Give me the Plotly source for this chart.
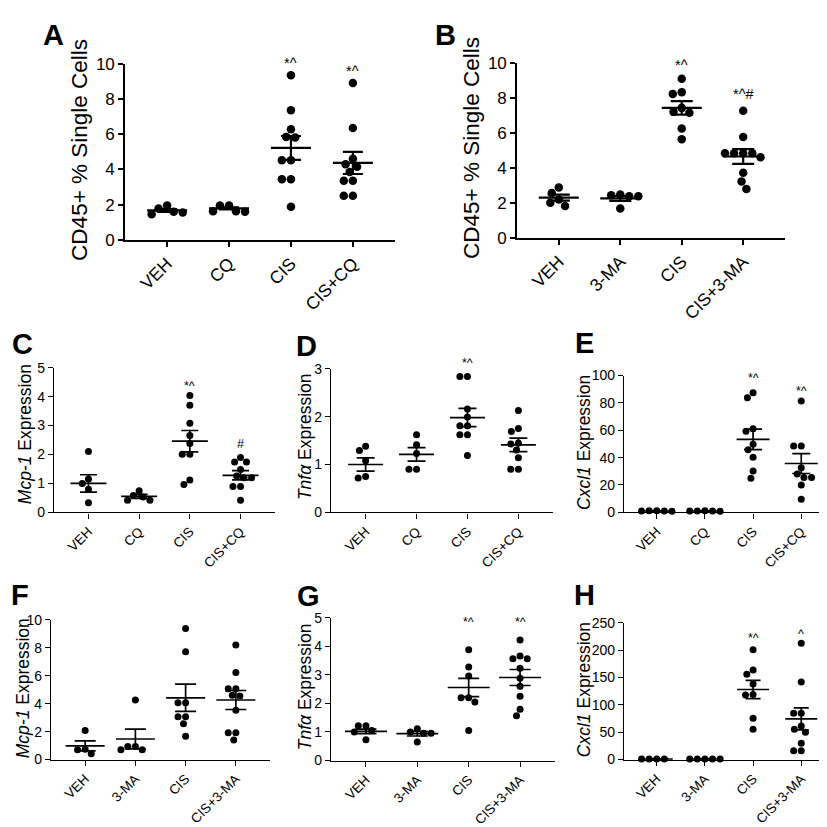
import math
import plotly.graph_objects as go

W = H = 827
FONT = "Liberation Sans, Arial, Helvetica, sans-serif"

# ---------------- data ----------------
cats_cq = ["VEH", "CQ", "CIS", "CIS+CQ"]
cats_ma = ["VEH", "3-MA", "CIS", "CIS+3-MA"]

# A: CD45+ % single cells, CQ experiment
a_veh = [1.95, 1.55, 1.45, 1.60, 1.78]
a_cq = [1.95, 1.62, 1.60, 1.62, 1.95]
a_cis = [9.35, 7.36, 6.28, 5.85, 5.82, 4.52, 4.52, 3.44, 3.44, 1.88]
a_ciscq = [8.92, 6.36, 4.60, 4.30, 4.15, 3.85, 3.35, 3.35, 2.50, 2.50]
a_mean = [1.67, 1.78, 5.22, 4.37]
a_sem = [0.08, 0.06, 0.68, 0.63]
a_sig = ["", "", "*^", "*^"]
a_sig_y = [0, 0, 10.05, 9.6]

# B: CD45+ % single cells, 3-MA experiment
b_veh = [2.88, 2.56, 2.19, 2.00, 1.82]
b_ma = [2.47, 2.38, 2.38, 2.43, 1.67]
b_cis = [9.10, 8.33, 8.23, 7.43, 7.21, 7.15, 6.25, 5.63]
b_cisma = [7.27, 5.76, 4.83, 4.83, 4.83, 4.83, 4.61, 3.72, 3.22, 2.79]
b_mean = [2.30, 2.25, 7.43, 4.65]
b_sem = [0.17, 0.14, 0.39, 0.42]
b_sig = ["", "", "*^", "*^#"]
b_sig_y = [0, 0, 9.9, 8.23]

# C: Mcp-1, CQ
c_veh = [2.10, 1.15, 1.00, 0.80, 0.33]
c_cq = [0.75, 0.53, 0.42, 0.42, 0.58]
c_cis = [4.04, 3.70, 3.08, 2.66, 2.38, 2.01, 2.01, 1.12, 0.96]
c_ciscq = [1.90, 1.74, 1.74, 1.48, 1.26, 1.20, 1.20, 0.89, 0.89, 0.42]
c_mean = [1.00, 0.55, 2.46, 1.28]
c_sem = [0.30, 0.07, 0.37, 0.16]
c_sig = ["", "", "*^", "#"]
c_sig_y = [0, 0, 4.37, 2.35]

# D: Tnfa, CQ
d_veh = [1.38, 1.29, 1.08, 0.75, 0.72]
d_cq = [1.62, 1.41, 1.23, 0.90, 0.90]
d_cis = [2.84, 2.84, 2.16, 1.99, 1.81, 1.81, 1.62, 1.62, 1.19]
d_ciscq = [2.13, 1.75, 1.69, 1.45, 1.43, 1.30, 1.14, 0.90, 0.90]
d_mean = [1.00, 1.21, 1.98, 1.41]
d_sem = [0.14, 0.14, 0.19, 0.14]
d_sig = ["", "", "*^", ""]
d_sig_y = [0, 0, 3.12, 0]

# E: Cxcl1, CQ
e_veh = [0.8, 1.2, 1.0, 0.9, 1.1]
e_cq = [0.9, 1.0, 1.1, 0.8, 1.0]
e_cis = [87.4, 83.8, 61.2, 59.3, 49.8, 45.7, 40.2, 30.2, 25.0]
e_ciscq = [81.4, 48.6, 48.6, 32.6, 28.0, 25.5, 25.5, 20.0, 9.5]
e_mean = [1.0, 1.0, 53.3, 35.7]
e_sem = [0.1, 0.1, 7.5, 7.3]
e_sig = ["", "", "*^", "*^"]
e_sig_y = [0, 0, 98, 89]

# F: Mcp-1, 3-MA
f_veh = [2.07, 0.74, 0.70, 0.42]
f_ma = [4.26, 0.93, 0.70, 0.70, 0.93]
f_cis = [9.37, 7.72, 4.07, 4.07, 3.07, 3.07, 2.56, 1.67]
f_cisma = [8.19, 6.23, 5.07, 5.07, 4.60, 4.55, 3.53, 1.91, 1.91, 1.40]
f_mean = [0.98, 1.47, 4.42, 4.26]
f_sem = [0.36, 0.70, 0.98, 0.68]
f_sig = ["", "", "", ""]
f_sig_y = [0, 0, 0, 0]

# G: Tnfa, 3-MA
g_veh = [1.22, 1.22, 1.05, 1.00, 0.73]
g_ma = [1.11, 1.00, 0.96, 0.96, 0.65]
g_cis = [3.88, 3.28, 2.96, 2.20, 2.20, 2.05, 1.05]
g_cisma = [4.22, 3.66, 3.57, 3.57, 3.23, 2.88, 2.60, 2.25, 1.80, 1.57]
g_mean = [1.02, 0.94, 2.56, 2.91]
g_sem = [0.08, 0.08, 0.32, 0.28]
g_sig = ["", "", "*^", "*^"]
g_sig_y = [0, 0, 4.85, 4.85]

# H: Cxcl1, 3-MA
h_veh = [0.8, 1.0, 1.2, 1.0]
h_ma = [1.0, 1.1, 0.9, 1.0, 1.2]
h_cis = [200.6, 163.7, 156.0, 138.0, 119.0, 117.9, 75.6, 55.4]
h_cisma = [212.5, 141.7, 84.5, 84.5, 61.3, 55.4, 50.0, 29.8, 16.0, 16.0]
h_mean = [1.0, 1.0, 128.0, 74.4]
h_sem = [0.1, 0.1, 16.7, 20.0]
h_sig = ["", "", "*^", "^"]
h_sig_y = [0, 0, 223, 229]

# ---------------- layout specs (pixels) ----------------
BIG = dict(tfont=17, cfont=17.5, ttl=22.5, sfont=14.5, ms=8.5, lw=2.2, axw=1.6)
SMALL = dict(tfont=14, cfont=13.5, ttl=17.5, sfont=12.5, ms=7, lw=1.7, axw=1.3)

panels = [
    dict(letter="A", cats=cats_cq, groups=[a_veh, a_cq, a_cis, a_ciscq], mean=a_mean, sem=a_sem,
         sig=a_sig, sig_y=a_sig_y, title="CD45+ % Single Cells",
         px=(117, 387), py=(48, 228), yr=(0, 10), dtick=2, title_xy=(72, 136), letter_xy=(45, 18),
         meanlen=40, cap=10, **BIG),
    dict(letter="B", cats=cats_ma, groups=[b_veh, b_ma, b_cis, b_cisma], mean=b_mean, sem=b_sem,
         sig=b_sig, sig_y=b_sig_y, title="CD45+ % Single Cells",
         px=(509, 777), py=(47, 226), yr=(0, 10), dtick=2, title_xy=(464, 134), letter_xy=(437, 18),
         meanlen=40, cap=11, **BIG),
    dict(letter="C", cats=cats_cq, groups=[c_veh, c_cq, c_cis, c_ciscq], mean=c_mean, sem=c_sem,
         sig=c_sig, sig_y=c_sig_y, title="<i>Mcp-1</i> Expression",
         px=(46, 267), py=(359, 507), yr=(0, 5), dtick=1, title_xy=(17, 427), letter_xy=(14, 335),
         meanlen=36, cap=8.5, **SMALL),
    dict(letter="D", cats=cats_cq, groups=[d_veh, d_cq, d_cis, d_ciscq], mean=d_mean, sem=d_sem,
         sig=d_sig, sig_y=d_sig_y, title="<i>Tnfα</i> Expression",
         px=(323, 545), py=(360, 507), yr=(0, 3), dtick=1, title_xy=(297, 430), letter_xy=(298, 337),
         meanlen=35, cap=9, **SMALL),
    dict(letter="E", cats=cats_cq, groups=[e_veh, e_cq, e_cis, e_ciscq], mean=e_mean, sem=e_sem,
         sig=e_sig, sig_y=e_sig_y, title="<i>Cxcl1</i> Expression",
         px=(616, 826), py=(367, 507), yr=(0, 100), dtick=20, title_xy=(576, 436), letter_xy=(576, 334),
         meanlen=33, cap=9, **SMALL),
    dict(letter="F", cats=cats_ma, groups=[f_veh, f_ma, f_cis, f_cisma], mean=f_mean, sem=f_sem,
         sig=f_sig, sig_y=f_sig_y, title="<i>Mcp-1</i> Expression",
         px=(43, 262), py=(617, 760), yr=(0, 10), dtick=2, title_xy=(15, 687), letter_xy=(12, 592),
         meanlen=39, cap=10.5, **SMALL),
    dict(letter="G", cats=cats_ma, groups=[g_veh, g_ma, g_cis, g_cisma], mean=g_mean, sem=g_sem,
         sig=g_sig, sig_y=g_sig_y, title="<i>Tnfα</i> Expression",
         px=(323, 547), py=(615, 761), yr=(0, 5), dtick=1, title_xy=(297, 686), letter_xy=(300, 593),
         meanlen=42, cap=10.5, **SMALL),
    dict(letter="H", cats=cats_ma, groups=[h_veh, h_ma, h_cis, h_cisma], mean=h_mean, sem=h_sem,
         sig=h_sig, sig_y=h_sig_y, title="<i>Cxcl1</i> Expression",
         px=(616, 826), py=(620, 760), yr=(0, 250), dtick=50, title_xy=(576, 689), letter_xy=(576, 592),
         meanlen=32, cap=7.5, **SMALL),
]

XR = (-0.68, 3.68)


def swarm(vals, d, ppx, ppy):
    """Deterministic beeswarm: horizontal offsets (x units) so dots don't overlap."""
    placed = []
    offs = [0.0] * len(vals)
    order = sorted(range(len(vals)), key=lambda i: -vals[i])
    for i in order:
        y = vals[i] * ppy
        iv = []
        for (xj, yj) in placed:
            dy = abs(y - yj)
            if dy < d:
                h = math.sqrt(d * d - dy * dy)
                iv.append((xj - h, xj + h))
        cands = [0.0] + [e for a in iv for e in a]
        ok = [c for c in cands if all(not (a + 1e-6 < c < b - 1e-6) for a, b in iv)]
        best = min(ok, key=lambda c: (round(abs(c), 6), c))
        placed.append((best, y))
        offs[i] = best / ppx
    return offs


fig = go.Figure()
annotations = []

for k, p in enumerate(panels):
    n = k + 1
    xa = "x" if n == 1 else f"x{n}"
    ya = "y" if n == 1 else f"y{n}"
    xw = p["px"][1] - p["px"][0]
    yh = p["py"][1] - p["py"][0]
    ppx = xw / (XR[1] - XR[0])
    ppy = yh / (p["yr"][1] - p["yr"][0])

    # individual points
    xs, ys = [], []
    for gi, vals in enumerate(p["groups"]):
        offs = swarm(vals, p["ms"] + 0.6, ppx, ppy)
        for v, o in zip(vals, offs):
            xs.append(gi + o)
            ys.append(v)
    fig.add_trace(go.Scatter(
        x=xs, y=ys, mode="markers", xaxis=xa, yaxis=ya, cliponaxis=False,
        marker=dict(color="black", size=p["ms"], line=dict(width=0)),
        showlegend=False, hoverinfo="y"))

    # mean line + SEM
    fig.add_trace(go.Scatter(
        x=list(range(4)), y=p["mean"], mode="markers", xaxis=xa, yaxis=ya, cliponaxis=False,
        marker=dict(symbol="line-ew", size=p["meanlen"] / 1.4, color="black",
                    line=dict(color="black", width=p["lw"])),
        error_y=dict(type="data", array=p["sem"], visible=True, color="black",
                     thickness=p["lw"], width=p["cap"]),
        showlegend=False, hoverinfo="y"))

    common_axis = dict(showline=True, linecolor="black", linewidth=p["axw"], ticks="outside",
                       ticklen=5, tickwidth=p["axw"], tickcolor="black", showgrid=False,
                       zeroline=False, fixedrange=True)
    fig.layout[f"xaxis{'' if n == 1 else n}"] = dict(
        domain=[p["px"][0] / W, p["px"][1] / W], anchor=ya, range=list(XR),
        tickmode="array", tickvals=list(range(4)), ticktext=p["cats"], tickangle=-45,
        tickfont=dict(family=FONT, size=p["cfont"], color="black"), **common_axis)
    fig.layout[f"yaxis{'' if n == 1 else n}"] = dict(
        domain=[1 - p["py"][1] / H, 1 - p["py"][0] / H], anchor=xa, range=list(p["yr"]),
        tickmode="linear", tick0=0, dtick=p["dtick"],
        tickfont=dict(family=FONT, size=p["tfont"], color="black"), **common_axis)

    # significance marks (kept inside the axis range, shifted above if needed)
    ymax = p["yr"][1]
    for gi, (s, sy) in enumerate(zip(p["sig"], p["sig_y"])):
        if s:
            ya_val = min(sy, ymax)
            annotations.append(dict(x=gi, y=ya_val, xref=xa, yref=ya, text=s, showarrow=False,
                                    xanchor="center", yanchor="middle",
                                    yshift=(sy - ya_val) * ppy,
                                    font=dict(family=FONT, size=p["sfont"], color="black")))
    # y-axis title
    annotations.append(dict(x=p["title_xy"][0] / W, y=1 - p["title_xy"][1] / H, xref="paper",
                            yref="paper", text=p["title"], textangle=-90, showarrow=False,
                            xanchor="center", yanchor="middle",
                            font=dict(family=FONT, size=p["ttl"], color="black")))
    # panel letter
    annotations.append(dict(x=p["letter_xy"][0] / W, y=1 - p["letter_xy"][1] / H, xref="paper",
                            yref="paper", text=f"<b>{p['letter']}</b>", showarrow=False,
                            xanchor="center", yanchor="middle",
                            font=dict(family=FONT, size=29, color="black")))

fig.update_layout(width=W, height=H, margin=dict(l=0, r=0, t=0, b=0),
                  paper_bgcolor="white", plot_bgcolor="white", showlegend=False,
                  annotations=annotations, font=dict(family=FONT, color="black"))

fig.write_html("out.html")
